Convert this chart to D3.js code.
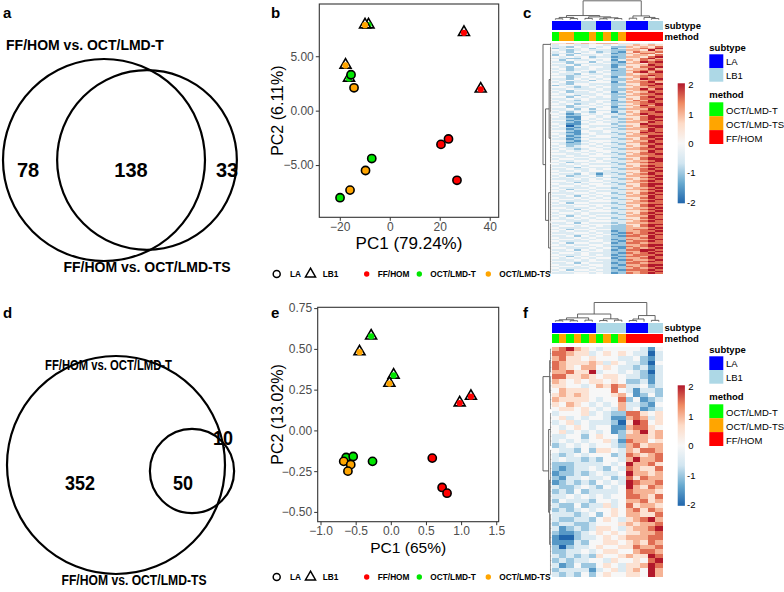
<!DOCTYPE html>
<html><head><meta charset="utf-8">
<script src="https://cdn.jsdelivr.net/npm/d3@7"></script>
<style>body{margin:0;background:#fff}svg{display:block}text{font-family:"Liberation Sans",Arial,sans-serif}</style>
</head><body><svg id="fig" width="784" height="592"></svg>
<script>
// ================= DATA =================
const vennTitles = ["FF/HOM vs. OCT/LMD-T", "FF/HOM vs. OCT/LMD-TS"];
const vennACounts = [78, 138, 33];   // only T, both, only TS
const vennDCounts = [352, 50, 10];

const methodNames = ["FF/HOM", "OCT/LMD-T", "OCT/LMD-TS"];
const methodColors = ["#FF0000", "#00E600", "#FFA500"];
const subtypeNames = ["LA", "LB1"];
const subtypeColors = ["#0000FF", "#ADD8E6"];
const annMethodColors = ["#FF0000", "#00FF00", "#FFA500"];

const pcaMethod = ["FF/HOM","FF/HOM","FF/HOM","FF/HOM","FF/HOM",
  "OCT/LMD-T","OCT/LMD-T","OCT/LMD-T","OCT/LMD-T","OCT/LMD-T",
  "OCT/LMD-TS","OCT/LMD-TS","OCT/LMD-TS","OCT/LMD-TS","OCT/LMD-TS"];
const pcaSubtype = ["LB1","LB1","LA","LA","LA","LB1","LB1","LA","LA","LA","LB1","LB1","LA","LA","LA"];
const pcaB_PC1 = [29.7, 36.4, 20.5, 23.5, 26.9, -8.5, -16.3, -15.5, -7.2, -19.9, -9.9, -17.7, -14.3, -9.7, -15.9];
const pcaB_PC2 = [7.2, 2.0, -3.1, -2.6, -6.4, 7.9, 3.0, 3.3, -4.4, -8.0, 7.9, 4.2, 2.1, -5.5, -7.3];
const pcaE_PC1 = [0.98, 1.14, 0.59, 0.73, 0.80, -0.28, 0.04, -0.26, -0.635, -0.535, -0.445, -0.02, -0.67, -0.57, -0.61];
const pcaE_PC2 = [0.17, 0.21, -0.17, -0.35, -0.385, 0.58, 0.34, -0.19, -0.166, -0.16, 0.483, 0.29, -0.19, -0.21, -0.25];
const pcaB_xTicks = [-20, 0, 20, 40];
const pcaB_yTicks = [-5, 0, 5];
const pcaE_xTicks = [-1, -0.5, 0, 0.5, 1, 1.5];
const pcaE_yTicks = [-0.5, -0.25, 0, 0.25, 0.5, 0.75];
const pcaB_titles = ["PC1 (79.24%)", "PC2 (6.11%)"];
const pcaE_titles = ["PC1 (65%)", "PC2 (13.02%)"];

const heatC_subtype = ["LA","LA","LA","LA","LB1","LB1","LA","LA","LB1","LB1","LA","LA","LA","LB1","LB1"];
const heatC_method = ["OCT/LMD-T","OCT/LMD-TS","OCT/LMD-TS","OCT/LMD-T","OCT/LMD-T","OCT/LMD-TS","OCT/LMD-T","OCT/LMD-TS","OCT/LMD-T","OCT/LMD-TS","FF/HOM","FF/HOM","FF/HOM","FF/HOM","FF/HOM"];
const heatF_subtype = ["LA","LA","LA","LA","LA","LA","LB1","LB1","LB1","LB1","LA","LA","LA","LB1","LB1"];
const heatF_method = ["OCT/LMD-T","OCT/LMD-TS","OCT/LMD-T","OCT/LMD-TS","OCT/LMD-T","OCT/LMD-TS","OCT/LMD-T","OCT/LMD-TS","OCT/LMD-T","OCT/LMD-TS","FF/HOM","FF/HOM","FF/HOM","FF/HOM","FF/HOM"];
const legendMethodOrder = ["OCT/LMD-T", "OCT/LMD-TS", "FF/HOM"];
const colorbarTicks = [2, 1, 0, -1, -2];

// z-scores coded 0..8 => -2..2 in steps of 0.5
const heatC_values = [
"556565666533434","344334434356565","332434342265657","234342441356768","432343332266586",
"342434232157667","333244341265775","242433432256657","434342331266578","332243442255786",
"424334341365767","332442432156878","442334342266577","334243331255687","432434431365778",
"342334332256686","432343341266777","343432432257868","433243342265677","332334432266787",
"442343431356767","332434342265878","434342432256677","342334441366786","432443332255778",
"234343432265787","443234342356677","334333432266868","432443432256777","342334341365687",
"434333432256778","333243442366677","442434342255787","334343332365778","433243441357687",
"343333432266787","434234342356778","332443432265868","442334341356777","334242442266687",
"433343332355787","342432441365778","431243433256877","342234343366687","431144342355788",
"332143433265787","441234343356778","332143433266687","431134442355877","340243333265788",
"432143442356778","331234433266687","442143343355787","331144342365878","432134333256777",
"341243443366688","432134442355787","331243333265778","442134443356687","331243432366787",
"432234343255778","342343433365687","433344342356787","343234433266778","434343443355687",
"333434342365787","443343433256778","334334443366677","433443332355787","344334343265788",
"433443433356678","342334442366787","434343333255677","333434443365787","443243332356678",
"334334343266787","433434433355778","344343232365687","433243133256787","342334243366678",
"434343432355787","333434343265678","443334433356787","334243342366677","433434433255788",
"344343443365787","433334332356678","342443443266787","434334333355678","333443442365787",
"443334343256778","334243433366687","433434342355787","344343433265678","433334443356787",
"342443332366677","434334443255788","333443433365787","443334342356678","334243433266787",
"433434443355678","344343332365787","433343443256778","342434333366687","434343442355787",
"333434333265678","443334443356787","334243332366677","433434443255788","344343432265787",
"433334332266678","342443442267787","434334331266778","333443432176787","443334341267778",
"334243432177687","433434332266787","344343431276678","433334432167787","342443341277677",
"434334432266788","333443431176787","443334342167678","334243431277887","433434432266878",
"344343332176787","433343431267778","342434332177687","434343441266787","333434332176678",
"443334432267787","334243331277677","433434432166788","344343432276787","433334331267678",
"342443432177787","434334332266778","333443431276787"];

const heatF_values = [
"678654344444314","776553454543303","675545444334213","765556535433204","765466454332313",
"667558344343203","775565455433213","654545545422313","554434657633423","465554447431332",
"565654445641242","655554344724123","546543434633214","455454343634123","344453432277545",
"453434431167635","345343332058745","434543441167754","453434341256856","334424544266656",
"343434453176645","234343443267566","433242554365776","323434442376567","343323244368667",
"222333343486675","212334324376557","122323433486656","213343342375766","123232434387667",
"322343243486576","232423333476665","334343434477657","243332443466756","322423353475665",
"232343445467576","333234245466557","322332454356786","233223444565667","312323554356678",
"211234545455667","100233454566677","111324455456576","202334544557667","223343455446776",
"323232544565587","232334435445478","312422454355687","233331345356486","323242454455486"];

// dendrograms: internal node = [height, left, right]; column leaves = column index; row leaves = count of consecutive rows
const colTreeC = [10, [2.2, [1.2, [0.5, 0, 1], [0.6, 2, 3]], [1.5, [0.7, 4, 5], [1.0, [0.5, 6, 7], [0.6, 8, 9]]]],
                      [2.0, [0.8, 10, 11], [1.2, 12, [0.6, 13, 14]]]];
const colTreeF = [10, [4, [2, [1, [0.5, 0, 1], [0.5, 2, 3]], [0.8, 4, 5]], [1.5, [0.6, 6, 7], [0.8, 8, 9]]],
                      [3.2, [1.4, [0.6, 10, 11], 12], [0.7, 13, 14]]];
const rowTreeC = [8, 2, [5.5, [2, 40, 30], [2.5, 35, 31]]];
const rowTreeF = [8, [1.5, 6, 8], [2.5, 8, [1.5, 14, 14]]];

// ================= DRAW =================
const svg = d3.select("#fig");
const mColor = d3.scaleOrdinal(methodNames, methodColors);
const mAnnColor = d3.scaleOrdinal(methodNames, annMethodColors);
const sColor = d3.scaleOrdinal(subtypeNames, subtypeColors);
const heatColor = d3.scaleLinear([-2, -4/3, -2/3, 0, 2/3, 4/3, 2],
  ["#2166AC", "#67A9CF", "#D1E5F0", "#F7F7F7", "#FDDBC7", "#EF8A62", "#B2182B"]).clamp(true);

function panelLabel(t, x, y) {
  svg.append("text").attr("x", x).attr("y", y).attr("font-size", 15).attr("font-weight", "bold").text(t);
}
panelLabel("a", 3, 18); panelLabel("b", 271, 18); panelLabel("c", 523, 18);
panelLabel("d", 3, 318); panelLabel("e", 271, 318); panelLabel("f", 523, 318);

// ---- Venn ----
function venn(counts, cfg) {
  const g = svg.append("g");
  const r = d3.scaleSqrt([0, counts[0] + counts[1]], [0, cfg.r1]);
  g.append("circle").attr("cx", cfg.c1[0]).attr("cy", cfg.c1[1]).attr("r", r(counts[0] + counts[1]))
    .attr("fill", "none").attr("stroke", "#000").attr("stroke-width", 2.2);
  g.append("circle").attr("cx", cfg.c2[0]).attr("cy", cfg.c2[1]).attr("r", r(counts[1] + counts[2]))
    .attr("fill", "none").attr("stroke", "#000").attr("stroke-width", 2.2);
  counts.forEach((c, i) => {
    const t = g.append("text").attr("x", cfg.lab[i][0]).attr("y", cfg.lab[i][1]).attr("text-anchor", "middle")
      .attr("font-size", cfg.numSize).attr("font-weight", "bold").text(c);
    if (cfg.lab[i][2]) t.attr("textLength", cfg.lab[i][2]).attr("lengthAdjust", "spacingAndGlyphs");
  });
  [cfg.t1, cfg.t2].forEach((t, i) => {
    const el = g.append("text").attr("x", t[0]).attr("y", t[1]).attr("text-anchor", "middle")
      .attr("font-size", t[2]).attr("font-weight", "bold").text(vennTitles[i]);
    if (t[3]) el.attr("textLength", t[3]).attr("lengthAdjust", "spacingAndGlyphs");
  });
  return g;
}
venn(vennACounts, {r1: 101, c1: [104, 160], c2: [147, 160], numSize: 20,
  lab: [[28, 177], [131, 177], [227, 177]], t1: [85, 50, 14], t2: [147, 272, 14]});
const gd = venn(vennDCounts, {r1: 109, c1: [116, 465], c2: [192, 471], numSize: 20,
  lab: [[80, 490, 30], [183, 490, 20], [223, 445, 20]], t1: [108.5, 370, 14, 127], t2: [134, 585, 14, 145]});
gd.append("line").attr("x1", 224.5).attr("x2", 224.5).attr("y1", 447).attr("y2", 471)
  .attr("stroke", "#000").attr("stroke-width", 1);

// ---- PCA ----
function pca(cfg) {
  const g = svg.append("g");
  const x = d3.scaleLinear(cfg.xd, cfg.xr), y = d3.scaleLinear(cfg.yd, cfg.yr);
  g.append("rect").attr("x", cfg.xr[0]).attr("y", cfg.yr[1]).attr("width", cfg.xr[1] - cfg.xr[0])
    .attr("height", cfg.yr[0] - cfg.yr[1]).attr("fill", "#fff").attr("stroke", "#333").attr("stroke-width", 1.1);
  const ax = g.append("g").attr("transform", `translate(0,${cfg.yr[0]})`)
    .call(d3.axisBottom(x).tickValues(cfg.xt).tickFormat(cfg.xf).tickSize(3.5).tickPadding(1.5));
  const ay = g.append("g").attr("transform", `translate(${cfg.xr[0]},0)`)
    .call(d3.axisLeft(y).tickValues(cfg.yt).tickFormat(cfg.yf).tickSize(3.5).tickPadding(2));
  [ax, ay].forEach(a => {
    a.select(".domain").remove();
    a.selectAll("line").attr("stroke", "#333");
    a.selectAll("text").attr("fill", "#4D4D4D").attr("font-size", 12).attr("font-family", '"Liberation Sans",Arial,sans-serif');
  });
  g.append("text").attr("x", (cfg.xr[0] + cfg.xr[1]) / 2).attr("y", cfg.xlabY).attr("text-anchor", "middle")
    .attr("font-size", cfg.titleSize).text(cfg.titles[0]);
  g.append("text").attr("transform", `translate(283,${(cfg.yr[0] + cfg.yr[1]) / 2}) rotate(-90)`)
    .attr("text-anchor", "middle").attr("font-size", 16).text(cfg.titles[1]);
  const tri = d3.symbol(d3.symbolTriangle, 52)();
  cfg.px.forEach((v, i) => {
    const cx = x(v), cy = y(cfg.py[i]);
    if (pcaSubtype[i] === "LB1") {
      g.append("path").attr("d", tri).attr("transform", `translate(${cx},${cy})`)
        .attr("fill", "#fff").attr("stroke", "#000").attr("stroke-width", 1.6);
      g.append("circle").attr("cx", cx).attr("cy", cy + 0.5).attr("r", 3.1).attr("fill", mColor(pcaMethod[i]));
    } else {
      g.append("circle").attr("cx", cx).attr("cy", cy).attr("r", 4.1).attr("fill", mColor(pcaMethod[i]))
        .attr("stroke", "#000").attr("stroke-width", 1.6);
    }
  });
  // legend
  const ly = cfg.legY, lg = g.append("g").attr("font-size", 8.3).attr("font-weight", "bold");
  lg.append("circle").attr("cx", 276.7).attr("cy", ly).attr("r", 3.5).attr("fill", "none").attr("stroke", "#000").attr("stroke-width", 1.5);
  lg.append("text").attr("x", 290).attr("y", ly + 3).text(subtypeNames[0]);
  lg.append("path").attr("d", d3.symbol(d3.symbolTriangle, 44)()).attr("transform", `translate(310.5,${ly})`)
    .attr("fill", "none").attr("stroke", "#000").attr("stroke-width", 1.5);
  lg.append("text").attr("x", 322.7).attr("y", ly + 3).text(subtypeNames[1]);
  const lx = [366.7, 419.3, 488.3];
  methodNames.forEach((m, i) => {
    lg.append("circle").attr("cx", lx[i]).attr("cy", ly).attr("r", 2.7).attr("fill", mColor(m));
    lg.append("text").attr("x", lx[i] + 11).attr("y", ly + 3).text(m);
  });
}
pca({xd: [-28.2, 43.6], xr: [319.3, 498.7], yd: [-9.8, 9.8], yr: [217.3, 4],
  xt: pcaB_xTicks, yt: pcaB_yTicks, xf: d3.format("d"), yf: d3.format(".2f"),
  px: pcaB_PC1, py: pcaB_PC2, titles: pcaB_titles, titleSize: 17, xlabY: 249, legY: 274});
pca({xd: [-1.04, 1.535], xr: [317.7, 498.7], yd: [-0.56, 0.755], yr: [521.7, 307.3],
  xt: pcaE_xTicks, yt: pcaE_yTicks, xf: d3.format(".1f"), yf: d3.format(".2f"),
  px: pcaE_PC1, py: pcaE_PC2, titles: pcaE_titles, titleSize: 15.5, xlabY: 553, legY: 577});

// ---- Heatmaps ----
function heatmap(cfg) {
  const g = svg.append("g");
  const nR = cfg.values.length;
  const xb = d3.scaleBand(d3.range(15), [551.7, 662.5]);
  const yb = d3.scaleBand(d3.range(nR), [cfg.top, cfg.bottom]);
  const cells = g.append("g").attr("shape-rendering", "crispEdges");
  cfg.values.forEach((row, r) => {
    row.split("").forEach((ch, c) => {
      cells.append("rect").attr("x", xb(c)).attr("y", yb(r)).attr("width", xb.bandwidth() + 0.4)
        .attr("height", yb.bandwidth() + 0.4).attr("fill", heatColor((+ch - 4) / 2));
    });
  });
  // annotations
  const ann = g.append("g").attr("shape-rendering", "crispEdges");
  cfg.subtype.forEach((s, c) => ann.append("rect").attr("x", xb(c)).attr("y", cfg.annY[0]).attr("width", xb.bandwidth() + 0.4)
    .attr("height", cfg.annY[1] - cfg.annY[0]).attr("fill", sColor(s)));
  cfg.method.forEach((m, c) => ann.append("rect").attr("x", xb(c)).attr("y", cfg.annY[2]).attr("width", xb.bandwidth() + 0.4)
    .attr("height", cfg.annY[3] - cfg.annY[2]).attr("fill", mAnnColor(m)));
  g.append("text").attr("x", 664.5).attr("y", cfg.annY[1] - 1.3).attr("font-size", 9.5).attr("font-weight", "bold").text("subtype");
  g.append("text").attr("x", 664.5).attr("y", cfg.annY[3] - 1.3).attr("font-size", 9.5).attr("font-weight", "bold").text("method");
  // column dendrogram
  const dg = g.append("g").attr("fill", "none").attr("stroke", "#555").attr("stroke-width", 0.9);
  const hy = d3.scaleLinear([0, 10], [cfg.annY[0] - 1, cfg.dTop]);
  (function rec(node) {
    if (typeof node === "number") return {x: xb(node) + xb.bandwidth() / 2, h: 0};
    const A = rec(node[1]), B = rec(node[2]), yy = hy(node[0]);
    dg.append("path").attr("d", `M${A.x},${hy(A.h)}V${yy}H${B.x}V${hy(B.h)}`);
    return {x: (A.x + B.x) / 2, h: node[0]};
  })(cfg.colTree);
  // row dendrogram
  const hx = d3.scaleLinear([0, 8], [551.2, 543]);
  let idx = 0;
  (function rec(node) {
    if (!Array.isArray(node)) {
      const ys = d3.range(node).map(i => yb(idx + i) + yb.bandwidth() / 2);
      idx += node;
      const gx = hx(0.7);
      let d = `M${gx},${ys[0]}V${ys[ys.length - 1]}`;
      ys.forEach(yy => d += `M${hx(0)},${yy}H${gx}`);
      dg.append("path").attr("d", d).attr("stroke-width", 0.6);
      return {y: d3.mean(ys), h: 0.7};
    }
    const A = rec(node[1]), B = rec(node[2]), xx = hx(node[0]);
    dg.append("path").attr("d", `M${hx(A.h)},${A.y}H${xx}V${B.y}H${hx(B.h)}`);
    return {y: (A.y + B.y) / 2, h: node[0]};
  })(cfg.rowTree);
  // legends
  const T = cfg.legTop;
  const L = g.append("g").attr("font-size", 9.5);
  L.append("text").attr("x", 709.3).attr("y", T).attr("font-weight", "bold").text("subtype");
  subtypeNames.forEach((s, i) => {
    L.append("rect").attr("x", 709.3).attr("y", T + 3.3 + i * 13.7).attr("width", 14).attr("height", 13.7).attr("fill", sColor(s));
    L.append("text").attr("x", 726).attr("y", T + 14 + i * 13.7).text(s);
  });
  L.append("text").attr("x", 709.3).attr("y", T + 47.3).attr("font-weight", "bold").text("method");
  legendMethodOrder.forEach((m, i) => {
    L.append("rect").attr("x", 709.3).attr("y", T + 51.3 + i * 13.9).attr("width", 14).attr("height", 13.9).attr("fill", mAnnColor(m));
    L.append("text").attr("x", 726).attr("y", T + 63 + i * 13.9).text(m);
  });
  // colorbar
  const cb = d3.scaleLinear([-2, 2], [cfg.cb[1] - 1, cfg.cb[0] + 1.5]);
  const gid = "grad" + Math.round(cfg.top);
  const grad = svg.append("defs").append("linearGradient").attr("id", gid).attr("x1", 0).attr("x2", 0).attr("y1", 1).attr("y2", 0);
  heatColor.domain().forEach(v => grad.append("stop").attr("offset", (v + 2) / 4).attr("stop-color", heatColor(v)));
  g.append("rect").attr("x", 677.7).attr("y", cfg.cb[0]).attr("width", 7.2).attr("height", cfg.cb[1] - cfg.cb[0]).attr("fill", `url(#${gid})`);
  colorbarTicks.forEach(t => g.append("text").attr("x", t < 0 ? 687 : 688.3).attr("y", cb(t) + 3.4).attr("font-size", 9.5).text(t));
}
heatmap({values: heatC_values, subtype: heatC_subtype, method: heatC_method, top: 42.7, bottom: 274,
  annY: [20.7, 30.3, 31.7, 41.3], dTop: 0.8, colTree: colTreeC, rowTree: rowTreeC, legTop: 51, cb: [83.3, 203.3]});
heatmap({values: heatF_values, subtype: heatF_subtype, method: heatF_method, top: 346.7, bottom: 576.7,
  annY: [322.7, 332.7, 334.3, 343.3], dTop: 302.5, colTree: colTreeF, rowTree: rowTreeF, legTop: 353, cb: [385.3, 505.8]});
</script></body></html>
